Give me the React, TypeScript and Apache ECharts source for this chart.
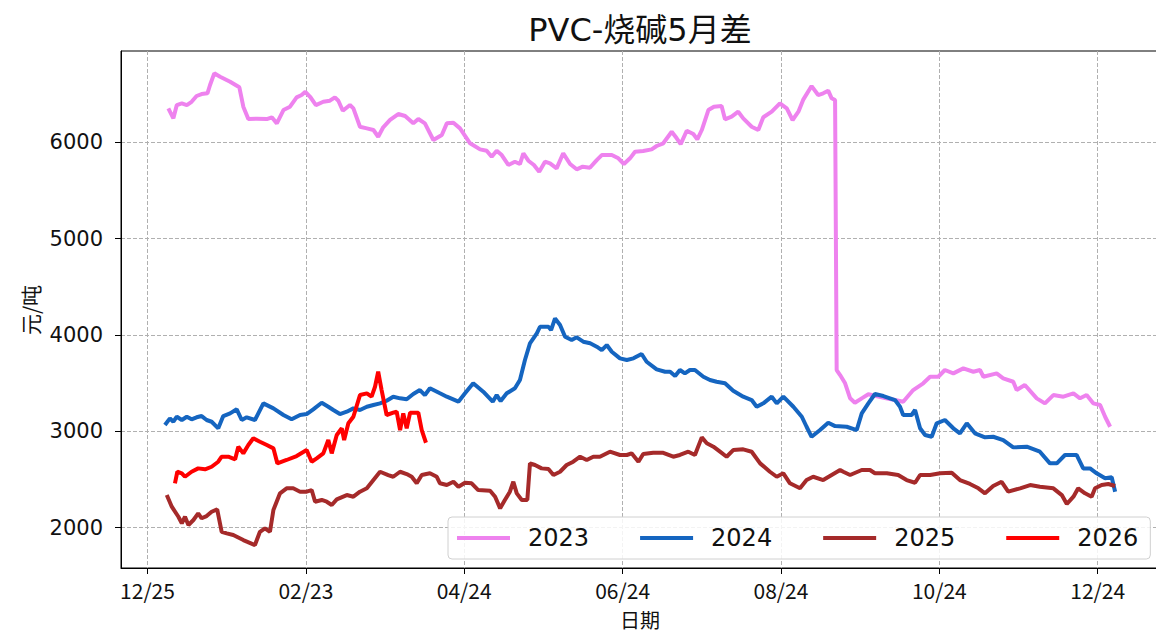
import React, { useEffect, useRef } from 'react';
import * as echarts from 'echarts';

const titleText = 'PVC-烧碱5月差';
const xName = '日期';
const yName = '元/吨';
const tickLabels = ['12/25', '02/23', '04/24', '06/24', '08/24', '10/24', '12/24'];
const xTickValues = [0, 60, 120, 180, 240, 300, 360];
const yTickValues = [2000, 3000, 4000, 5000, 6000];
const seriesNames = ['2023', '2024', '2025', '2026'];
const seriesColors = ['#ee82ee', '#1565c0', '#a52a2a', '#ff0000'];

const s2023: [number, number][] = [
  [7.9, 6353], [9.8, 6249], [11.1, 6387], [13.0, 6405], [14.9, 6387], [16.7, 6421], [18.6, 6481], [20.5, 6501], [22.7, 6509], [23.7, 6595],
  [25.3, 6716], [27.5, 6681], [31.3, 6629], [34.8, 6571], [36.3, 6370], [38.2, 6242], [41.4, 6245], [45.2, 6242], [47.1, 6260], [49.0, 6197],
  [51.5, 6335], [54.0, 6370], [56.5, 6467], [58.4, 6491], [59.8, 6525], [61.6, 6473], [63.8, 6387], [66.6, 6421], [69.1, 6432], [71.0, 6467],
  [72.3, 6432], [74.0, 6328], [76.7, 6387], [78.0, 6353], [80.5, 6162], [83.1, 6145], [85.6, 6128], [87.4, 6058], [89.3, 6156], [91.9, 6232],
  [95.0, 6294], [97.6, 6273], [100.7, 6197], [102.6, 6242], [105.1, 6197], [108.3, 6024], [111.5, 6076], [113.4, 6197], [115.9, 6203], [118.4, 6145],
  [122.2, 5990], [126.0, 5927], [128.5, 5913], [130.4, 5851], [132.3, 5913], [134.2, 5868], [136.7, 5765], [139.2, 5799], [141.1, 5775], [142.4, 5886],
  [144.3, 5809], [146.4, 5765], [148.4, 5695], [150.6, 5799], [152.5, 5782], [155.0, 5730], [157.5, 5886], [160.1, 5775], [162.6, 5720], [164.9, 5747],
  [167.6, 5736], [170.2, 5816], [172.1, 5868], [175.9, 5868], [178.4, 5834], [180.5, 5775], [182.8, 5834], [184.7, 5903], [187.8, 5910], [191.0, 5927],
  [192.9, 5962], [195.4, 5990], [198.6, 6110], [200.5, 6042], [202.0, 5982], [204.3, 6120], [206.8, 6086], [208.3, 6031], [210.0, 6128], [212.5, 6335],
  [214.6, 6370], [217.5, 6377], [218.8, 6239], [221.3, 6266], [223.8, 6318], [225.7, 6249], [228.9, 6162], [231.4, 6128], [233.3, 6260], [236.5, 6318],
  [239.6, 6405], [242.2, 6353], [244.4, 6232], [246.6, 6318], [248.5, 6446], [251.6, 6584], [254.1, 6491], [256.0, 6509], [257.9, 6536], [259.2, 6457],
  [260.5, 6439], [261.1, 3637], [262.4, 3585], [264.3, 3499], [266.2, 3343], [268.0, 3297], [270.6, 3343], [273.1, 3385], [279.4, 3346], [283.2, 3325],
  [286.3, 3308], [290.1, 3429], [293.9, 3499], [296.5, 3567], [299.6, 3567], [302.1, 3637], [305.3, 3602], [309.1, 3654], [312.9, 3619], [315.4, 3637],
  [316.7, 3567], [321.7, 3602], [324.2, 3551], [328.0, 3515], [329.3, 3429], [332.4, 3481], [336.9, 3343], [340.0, 3291], [343.2, 3377], [347.0, 3360],
  [350.8, 3395], [353.3, 3343], [355.8, 3377], [358.3, 3291], [360.9, 3274], [362.8, 3152], [364.7, 3048],
];

const s2024: [number, number][] = [
  [6.6, 3066], [8.5, 3135], [9.8, 3100], [11.1, 3152], [13.0, 3118], [14.9, 3152], [16.7, 3125], [18.6, 3146], [20.5, 3159], [22.4, 3118],
  [24.3, 3100], [26.8, 3032], [28.7, 3159], [31.3, 3187], [33.8, 3229], [35.7, 3118], [37.6, 3146], [40.7, 3118], [43.9, 3291], [47.7, 3239],
  [51.5, 3170], [54.6, 3125], [57.8, 3170], [60.3, 3180], [62.8, 3229], [66.0, 3297], [68.5, 3256], [70.4, 3222], [72.9, 3180], [75.5, 3204],
  [78.0, 3239], [80.5, 3222], [83.1, 3256], [85.6, 3274], [88.1, 3291], [90.6, 3318], [93.1, 3360], [95.7, 3343], [98.2, 3333], [100.7, 3388],
  [103.2, 3429], [105.1, 3377], [107.0, 3447], [110.8, 3395], [113.4, 3360], [117.8, 3308], [120.3, 3395], [123.4, 3499], [127.2, 3412], [130.8, 3308],
  [132.3, 3377], [133.8, 3315], [136.1, 3395], [139.2, 3447], [141.1, 3533], [143.0, 3741], [144.9, 3914], [147.5, 4018], [148.7, 4086], [151.9, 4086],
  [152.9, 4052], [154.4, 4173], [156.3, 4104], [158.2, 3982], [160.7, 3948], [162.6, 3976], [165.1, 3931], [167.7, 3914], [170.2, 3879], [172.1, 3844],
  [174.0, 3896], [175.9, 3827], [179.0, 3758], [181.6, 3741], [184.1, 3758], [187.2, 3803], [189.1, 3723], [192.9, 3644], [196.1, 3619], [198.0, 3619],
  [199.9, 3575], [201.7, 3637], [203.6, 3602], [205.5, 3637], [207.4, 3637], [210.6, 3567], [213.1, 3533], [215.6, 3515], [218.8, 3499], [221.9, 3422],
  [225.7, 3360], [228.9, 3325], [230.8, 3256], [233.3, 3291], [236.5, 3360], [238.4, 3291], [240.9, 3360], [244.7, 3256], [247.9, 3152], [249.7, 3048],
  [251.6, 2944], [254.8, 3014], [257.9, 3090], [260.5, 3055], [264.9, 3048], [268.7, 3014], [270.6, 3187], [273.1, 3291], [275.6, 3388], [278.8, 3367],
  [283.2, 3325], [285.1, 3256], [286.3, 3170], [289.5, 3170], [290.8, 3222], [292.7, 3032], [294.6, 2962], [297.1, 2944], [299.0, 3084], [302.1, 3118],
  [305.3, 3032], [307.8, 2980], [310.4, 3084], [313.5, 2980], [317.3, 2938], [320.4, 2944], [324.2, 2910], [328.0, 2834], [333.1, 2841], [338.1, 2789],
  [341.9, 2668], [344.5, 2668], [347.6, 2755], [352.0, 2755], [354.5, 2616], [357.1, 2616], [359.6, 2565], [362.8, 2513], [365.3, 2523], [366.6, 2374],
];

const s2025: [number, number][] = [
  [7.3, 2339], [9.2, 2218], [11.7, 2114], [13.0, 2046], [14.2, 2114], [15.5, 2028], [17.4, 2080], [19.2, 2149], [20.5, 2098], [22.4, 2121],
  [24.3, 2166], [26.4, 2191], [28.1, 1958], [30.0, 1942], [32.5, 1924], [36.3, 1872], [40.7, 1820], [42.6, 1958], [44.5, 1994], [46.4, 1958],
  [47.7, 2184], [50.2, 2357], [52.7, 2409], [55.2, 2409], [57.8, 2374], [60.3, 2374], [62.2, 2391], [63.5, 2270], [66.0, 2288], [67.9, 2270],
  [69.8, 2236], [71.7, 2295], [75.5, 2339], [78.0, 2322], [80.5, 2374], [83.1, 2409], [85.6, 2495], [88.1, 2581], [91.2, 2547], [93.1, 2529],
  [95.7, 2581], [98.2, 2557], [100.1, 2529], [102.0, 2461], [103.9, 2547], [107.0, 2565], [109.6, 2529], [110.8, 2461], [113.4, 2443], [115.9, 2477],
  [117.8, 2425], [120.3, 2467], [122.8, 2461], [125.3, 2391], [129.8, 2384], [131.7, 2322], [133.6, 2201], [135.4, 2288], [137.3, 2374], [138.6, 2477],
  [139.9, 2357], [141.8, 2288], [143.9, 2288], [144.9, 2668], [146.8, 2651], [149.3, 2616], [151.9, 2609], [153.8, 2547], [156.3, 2581], [158.8, 2651],
  [161.3, 2685], [163.9, 2737], [166.4, 2703], [168.9, 2737], [171.4, 2737], [175.2, 2789], [179.0, 2755], [181.6, 2755], [183.4, 2772], [186.0, 2685],
  [187.8, 2765], [191.6, 2778], [195.4, 2778], [199.2, 2737], [201.7, 2755], [204.9, 2789], [207.4, 2755], [210.0, 2938], [211.9, 2876], [214.4, 2841],
  [216.9, 2789], [219.4, 2737], [221.9, 2806], [225.7, 2814], [228.9, 2789], [232.1, 2668], [235.8, 2581], [238.4, 2529], [240.9, 2565], [243.4, 2461],
  [247.2, 2409], [249.7, 2495], [252.2, 2529], [256.0, 2495], [259.2, 2547], [262.4, 2599], [263.6, 2581], [266.2, 2547], [270.6, 2599], [273.7, 2599],
  [275.6, 2565], [280.1, 2565], [284.4, 2547], [287.6, 2495], [290.8, 2467], [292.7, 2547], [296.5, 2547], [300.3, 2565], [304.7, 2571], [307.8, 2495],
  [311.6, 2454], [314.8, 2409], [317.3, 2357], [320.4, 2433], [323.6, 2477], [326.1, 2374], [330.6, 2409], [334.4, 2443], [338.1, 2425], [343.2, 2409],
  [346.4, 2339], [348.3, 2246], [350.8, 2322], [352.6, 2409], [355.2, 2357], [357.7, 2322], [359.0, 2409], [361.5, 2443], [364.0, 2454], [366.6, 2433],
];

const s2026: [number, number][] = [
  [10.4, 2461], [11.3, 2581], [13.0, 2565], [14.2, 2529], [16.7, 2581], [19.2, 2616], [21.8, 2606], [24.3, 2633], [26.8, 2685], [28.1, 2737],
  [30.6, 2737], [33.2, 2710], [34.4, 2841], [36.3, 2772], [38.2, 2858], [40.1, 2928], [42.6, 2893], [45.2, 2858], [47.7, 2824], [49.2, 2668],
  [52.7, 2703], [56.5, 2744], [60.3, 2806], [62.2, 2685], [64.1, 2720], [66.6, 2772], [68.5, 2910], [69.8, 2772], [71.7, 2962], [73.6, 3032],
  [74.5, 2910], [76.1, 3084], [78.0, 3152], [80.5, 3377], [83.1, 3395], [84.9, 3360], [86.2, 3463], [87.4, 3619], [88.7, 3429], [90.6, 3170],
  [93.1, 3194], [94.4, 3204], [95.7, 3014], [96.9, 3187], [98.2, 3032], [99.5, 3194], [102.6, 3194], [103.9, 3014], [105.5, 2882],
];

const seriesData = [s2023, s2024, s2025, s2026];

const X_MIN = -10.04;
const X_MAX = 383.6;
const Y_MIN = 1582;
const Y_MAX = 6948;

export default function App() {
  const ref = useRef<HTMLDivElement>(null);
  useEffect(() => {
    if (!ref.current) return;
    const chart = echarts.init(ref.current, null, { renderer: 'svg' });
    const gridLine = { show: true, lineStyle: { type: [4, 2], color: '#b0b0b0', width: 1 } };
    chart.setOption({
      animation: false,
      backgroundColor: '#ffffff',
      grid: {
        left: 121, top: 51, right: -4, bottom: 67,
        show: true, borderColor: '#000', borderWidth: 1, backgroundColor: 'transparent',
        containLabel: false, outerBoundsMode: 'none',
      },
      xAxis: {
        type: 'value', min: X_MIN, max: X_MAX, minInterval: 60, maxInterval: 60,
        axisLine: { show: true, onZero: false, lineStyle: { color: '#000', width: 1 } },
        axisTick: { show: true, length: 6, lineStyle: { color: '#000' }, customValues: xTickValues },
        axisLabel: {
          margin: 11, fontFamily: 'Noto Sans CJK SC', fontSize: 21, color: '#111',
          customValues: xTickValues,
          formatter: (v: number) => {
            const i = Math.round(v / 60);
            return Math.abs(v - i * 60) < 1e-6 && i >= 0 && i < tickLabels.length ? tickLabels[i] : '';
          },
        },
        splitLine: gridLine,
      },
      yAxis: {
        type: 'value', min: Y_MIN, max: Y_MAX, minInterval: 1000, maxInterval: 1000,
        axisLine: { show: true, onZero: false, lineStyle: { color: '#000', width: 1 } },
        axisTick: { show: true, length: 6, lineStyle: { color: '#000' }, customValues: yTickValues },
        axisLabel: {
          margin: 18, fontFamily: 'DejaVu Sans', fontSize: 21, color: '#111',
          customValues: yTickValues,
          formatter: (v: number) => (Math.abs(v % 1000) < 1e-6 ? String(v) : ''),
        },
        splitLine: gridLine,
      },
      legend: {
        left: 448, top: 517, orient: 'horizontal', icon: 'rect',
        itemWidth: 53, itemHeight: 4, itemGap: 51,
        padding: [9, 12, 9, 9],
        backgroundColor: 'rgba(255,255,255,0.85)', borderColor: '#d0d0d0', borderWidth: 1, borderRadius: 4,
        textStyle: { fontFamily: 'DejaVu Sans', fontSize: 24, color: '#111', padding: [0, 0, 0, 13] },
        data: seriesNames,
      },
      graphic: [
        {
          type: 'text', x: 640, y: 30,
          style: { text: titleText, font: '32px "DejaVu Sans", "Noto Sans CJK SC"', fill: '#111', align: 'center', verticalAlign: 'middle', textAlign: 'center', textVerticalAlign: 'middle' },
        },
        {
          type: 'text', x: 640, y: 619,
          style: { text: xName, font: '20px "Noto Sans CJK SC"', fill: '#111', align: 'center', verticalAlign: 'middle', textAlign: 'center', textVerticalAlign: 'middle' },
        },
        {
          type: 'text', x: 30, y: 310, rotation: Math.PI / 2,
          style: { text: yName, font: '21px "Noto Sans CJK SC"', fill: '#111', align: 'center', verticalAlign: 'middle', textAlign: 'center', textVerticalAlign: 'middle' },
        },
      ],
      series: seriesNames.map((name, i) => ({
        name, type: 'line', data: seriesData[i], showSymbol: false, symbol: 'none',
        lineStyle: { color: seriesColors[i], width: 4 }, itemStyle: { color: seriesColors[i] },
        z: 2 + i,
      })),
    });
    return () => chart.dispose();
  }, []);
  return <div ref={ref} style={{ position: 'fixed', left: 0, top: 0, width: 1156, height: 635, background: '#fff' }} />;
}
